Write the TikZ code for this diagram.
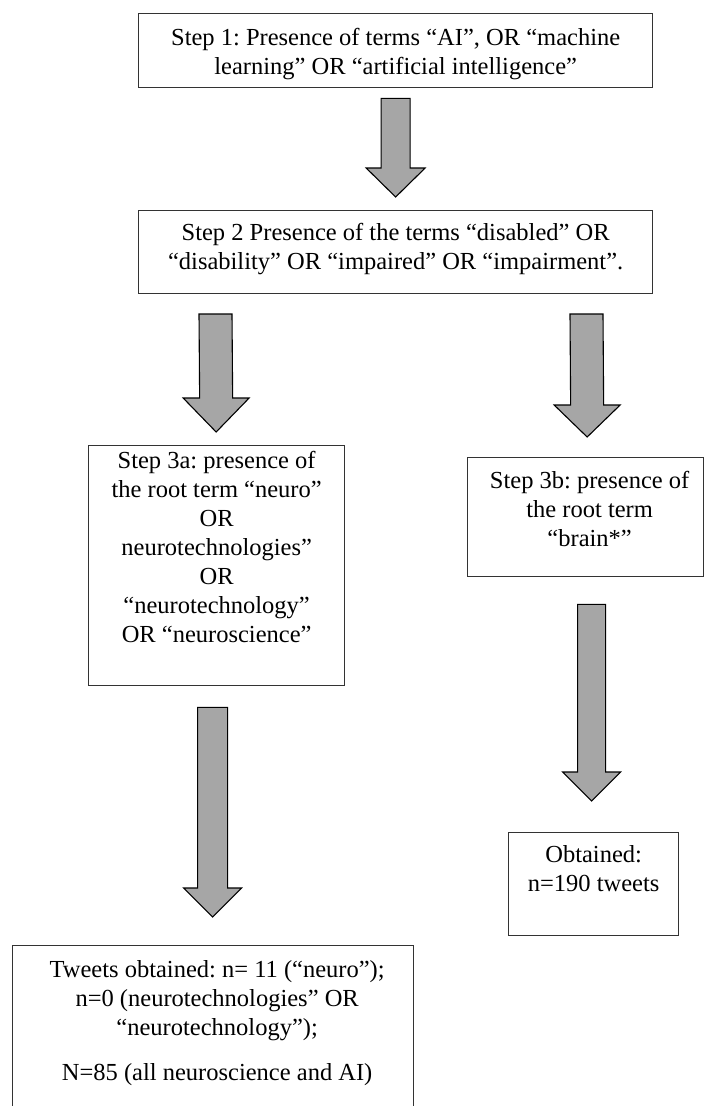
\documentclass[tikz,border=0pt]{standalone}
\usepackage{fontspec}
\setmainfont{Liberation Serif}
\usetikzlibrary{calc}
\definecolor{arrowgray}{HTML}{A6A6A6}
\definecolor{boxline}{HTML}{333333}
\tikzset{
  boxnode/.style={draw=boxline, line width=1.3pt, inner sep=0pt, anchor=north west},
  blockarrow/.style={draw=black, line width=1.1pt, fill=arrowgray, line join=miter},
}
\frenchspacing
% #1 width, #2 height, #3 first-baseline drop, #4 extra left shift of centre, #5 text
\newcommand\boxtext[5]{\parbox[c][#2][t]{#1}{\fontsize{24.5}{29}\selectfont\frenchspacing\centering\leftskip=#4 plus 1fil\relax\rule{0pt}{#3}#5}}
% #1 start coord, #2 tip coord, #3 shaft half width, #4 head half width, #5 head length
\newcommand\blockarr[5]{\draw[blockarrow] ($(#1)+(-#3,0)$) -- ($(#1)+(#3,0)$) -- ($(#2)+(#3,-#5)$) -- ($(#2)+(#4,-#5)$) -- (#2) -- ($(#2)+(-#4,-#5)$) -- ($(#2)+(-#3,-#5)$) -- cycle;}
\begin{document}
\begin{tikzpicture}[x=1pt,y=-1pt]
\useasboundingbox (0,0) rectangle (707,1106);
\clip (0,0) rectangle (707,1106);
\fill[white] (0,0) rectangle (707,1106);

\node[boxnode] (s1) at (138,13) {\boxtext{514pt}{74pt}{32pt}{0pt}{Step 1: Presence of terms “AI”, OR “machine\\learning” OR “artificial intelligence”}};
\node[boxnode] (s2) at (138,210) {\boxtext{514pt}{83pt}{30pt}{0pt}{Step 2 Presence of the terms “disabled” OR\\“disability” OR “impaired” OR “impairment”.}};
\node[boxnode] (s3a) at (88,445) {\boxtext{256pt}{240pt}{23pt}{0pt}{Step 3a: presence of\\the root term “neuro”\\OR\\neurotechnologies”\\OR\\“neurotechnology”\\OR “neuroscience”}};
\node[boxnode] (s3b) at (467,457) {\boxtext{236pt}{119pt}{31pt}{8pt}{Step 3b: presence of\\the root term\\“brain*”}};
\node[boxnode] (res3b) at (508,832) {\boxtext{170pt}{103pt}{30pt}{0pt}{Obtained:\\n=190 tweets}};
\node[boxnode] (res3a) at (12,945) {\boxtext{401pt}{180pt}{32pt}{8pt}{Tweets obtained: n= 11 (“neuro”);\\n=0 (neurotechnologies” OR\\“neurotechnology”);\\[16pt]N=85 (all neuroscience and AI)}};

\coordinate (a1s) at ($(s1.south)+(0,10)$);
\coordinate (a1e) at ($(s2.north)+(0,-13)$);
\blockarr{a1s}{a1e}{14.5}{29.5}{29}

\coordinate (a2s) at (215.5,314);
\coordinate (a2e) at ($(s3a.north)+(-0.5,-13)$);
\blockarr{a2s}{a2e}{16.5}{33}{34}

\coordinate (a3s) at (586.5,314);
\coordinate (a3e) at ($(s3b.north)+(1.5,-20)$);
\blockarr{a3s}{a3e}{16.5}{33}{32}

\coordinate (a4s) at ($(s3a.south)+(-4,21)$);
\coordinate (a4e) at ($(res3a.north)+(-0.5,-28)$);
\blockarr{a4s}{a4e}{15}{29}{29}

\coordinate (a5s) at ($(s3b.south)+(6,27)$);
\coordinate (a5e) at ($(res3b.north)+(-2,-31)$);
\blockarr{a5s}{a5e}{14}{29}{29}
\end{tikzpicture}
\end{document}
